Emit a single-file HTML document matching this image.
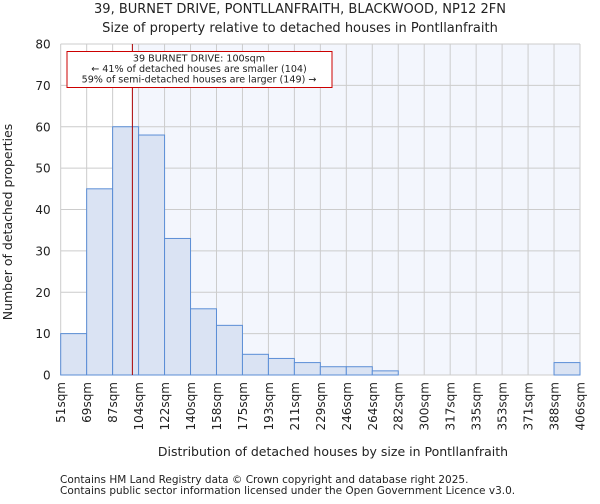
<!DOCTYPE html>
<html><head><meta charset="utf-8"><style>
body{margin:0;background:#fff;font-family:"DejaVu Sans","Liberation Sans",sans-serif;}
svg text{font-family:"DejaVu Sans","Liberation Sans",sans-serif;fill:#222;}
</style></head><body>
<svg id="chart" width="600" height="500">
<text x="300" y="13" font-size="13" text-anchor="middle">39, BURNET DRIVE, PONTLLANFRAITH, BLACKWOOD, NP12 2FN</text>
<text x="300" y="32" font-size="13" text-anchor="middle">Size of property relative to detached houses in Pontllanfraith</text>
<g id="plot"></g>
<text x="333" y="456" font-size="12.5" text-anchor="middle">Distribution of detached houses by size in Pontllanfraith</text>
<text transform="translate(12,222) rotate(-90)" font-size="12.5" text-anchor="middle">Number of detached properties</text>
<text x="60" y="483" font-size="10.5">Contains HM Land Registry data © Crown copyright and database right 2025.</text>
<text x="60" y="494" font-size="10.5">Contains public sector information licensed under the Open Government Licence v3.0.</text>
</svg>
<script>
const categories=["51sqm","69sqm","87sqm","104sqm","122sqm","140sqm","158sqm","175sqm","193sqm","211sqm","229sqm","246sqm","264sqm","282sqm","300sqm","317sqm","335sqm","353sqm","371sqm","388sqm","406sqm"];
const counts=[10,45,60,58,33,16,12,5,4,3,2,2,1,0,0,0,0,0,0,3];
const yTicks=[0,10,20,30,40,50,60,70,80];
const propertySize=100;
const binStart=51, binEnd=406;
const X0=60.7,X1=580,Y0=375,Y1=44,YMAX=80;
const ns="http://www.w3.org/2000/svg";
const g=document.getElementById('plot');
const bw=(X1-X0)/counts.length;
const xb=i=>X0+i*bw;
const y=v=>Y0-(v/YMAX)*(Y0-Y1);
const xs=s=>X0+(s-binStart)/(binEnd-binStart)*(X1-X0);
function mk(t,a){const e=document.createElementNS(ns,t);for(const k in a)e.setAttribute(k,a[k]);g.appendChild(e);return e;}
const px=xs(propertySize);
let e=mk('rect',{x:X0,y:Y1,width:px-X0,height:Y0-Y1,fill:'#ffffff'});


e=mk('rect',{x:px,y:Y1,width:X1-px,height:Y0-Y1,fill:'#f3f6fd'});


yTicks.forEach(t=>{
 e=mk('line',{x1:X0,x2:X1,y1:y(t),y2:y(t),stroke:'#cccccc','stroke-width':1});
 
 
 e=mk('text',{x:X0-10,y:y(t)+4.5,'font-size':12,'text-anchor':'end'});e.textContent=t;
 
 
});
categories.forEach((c,i)=>{
 e=mk('line',{x1:xb(i),x2:xb(i),y1:Y1,y2:Y0,stroke:'#cccccc','stroke-width':1});
 
 
 e=mk('text',{transform:`translate(${xb(i)+4.5},${Y0+7}) rotate(-90)`,'font-size':12,'text-anchor':'end'});e.textContent=c;
 
 
});
counts.forEach((v,i)=>{
 if(v<=0)return;
 e=mk('rect',{x:xb(i),y:y(v),width:bw,height:Y0-y(v),fill:'#dae3f3',stroke:'#5b8ed6','stroke-width':1});
 
 
});
e=mk('line',{x1:px,x2:px,y1:Y1,y2:Y0,stroke:'#aa0000','stroke-width':1});


e=mk('rect',{x:67,y:51.5,width:265,height:36,fill:'#fff',stroke:'#cc0000','stroke-width':1});


["39 BURNET DRIVE: 100sqm","← 41% of detached houses are smaller (104)","59% of semi-detached houses are larger (149) →"].forEach((s,i)=>{
 e=mk('text',{x:199,y:61.5+i*10.5,'font-size':9.6,'text-anchor':'middle'});e.textContent=s;
 
 
});
</script>
</body></html>
